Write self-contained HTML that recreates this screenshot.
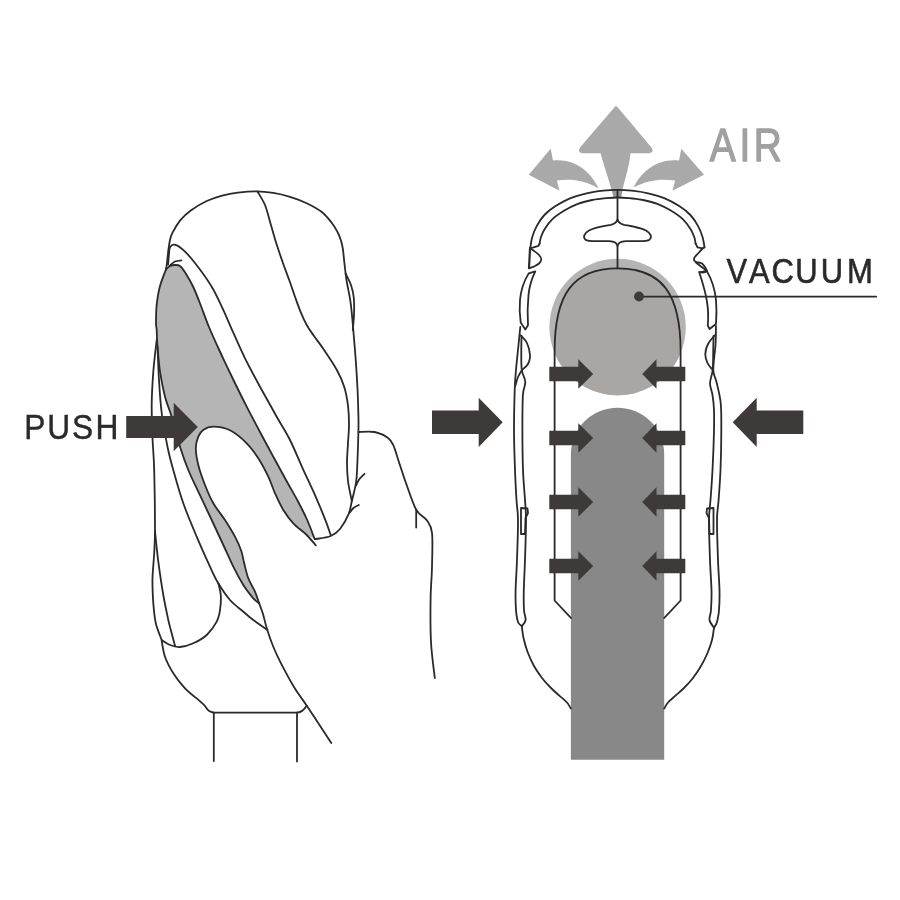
<!DOCTYPE html>
<html lang="en">
<head>
<meta charset="utf-8">
<title>PUSH / AIR / VACUUM diagram</title>
<style>
html,body{margin:0;padding:0;background:#fff;}
body{width:900px;height:900px;overflow:hidden;font-family:"Liberation Sans",sans-serif;}
svg{display:block;}
</style>
</head>
<body>
<svg width="900" height="900" viewBox="0 0 900 900">
<rect width="900" height="900" fill="#fff"/>
<g filter="url(#soft)">
<path d="M166.0 269.3C166.7 268.8 168.6 266.7 170.0 266.0C171.4 265.3 173.0 265.0 174.7 265.0C176.4 265.0 178.2 264.7 180.0 266.0C181.8 267.3 183.1 269.2 185.3 272.7C187.5 276.2 190.7 281.4 193.3 287.0C195.9 292.6 198.4 299.3 201.0 306.0C203.6 312.7 206.0 319.8 209.0 327.0C212.0 334.2 215.1 341.0 219.0 349.5C222.9 358.0 227.9 368.5 232.5 378.0C237.1 387.5 242.1 397.7 246.7 406.7C251.3 415.7 255.6 423.7 260.0 432.0C264.4 440.3 269.0 448.7 273.3 456.7C277.6 464.7 282.0 472.7 286.0 480.0C290.0 487.3 294.0 493.9 297.5 500.5C301.0 507.1 304.1 513.1 307.0 519.5C309.9 525.9 313.3 535.6 314.6 538.8L306.7 535.0C304.5 533.0 297.2 527.5 293.3 523.3C289.4 519.1 286.4 515.0 283.3 510.0C280.2 505.0 277.5 498.9 275.0 493.3C272.5 487.8 271.1 482.5 268.3 476.7C265.5 470.9 261.9 463.9 258.3 458.3C254.7 452.7 251.4 448.0 246.7 443.3C242.0 438.6 235.6 433.1 230.0 430.3C224.4 427.5 217.7 426.8 213.3 426.7C208.9 426.6 206.0 428.1 203.5 429.8C201.0 431.5 199.6 433.6 198.3 436.7C197.0 439.8 195.8 443.6 195.8 448.3C195.8 453.0 196.8 458.9 198.3 465.0C199.8 471.1 202.5 478.6 205.0 485.0C207.5 491.4 210.0 497.5 213.3 503.3C216.6 509.1 221.4 514.4 225.0 520.0C228.6 525.6 232.3 531.5 235.0 536.7C237.7 541.9 239.8 546.6 241.3 551.0C242.8 555.4 243.0 558.8 244.2 563.3C245.4 567.8 246.5 573.6 248.3 578.3C250.1 583.0 253.2 587.5 255.0 591.7C256.8 595.9 258.5 601.4 259.2 603.3C258.2 602.5 256.0 601.3 253.3 598.3C250.7 595.2 246.6 590.3 243.3 585.0C240.0 579.7 236.6 573.4 233.3 566.7C230.0 560.0 226.9 552.8 223.3 545.0C219.7 537.2 215.9 528.9 211.7 520.0C207.5 511.1 202.2 500.0 198.3 491.7C194.4 483.4 191.4 477.5 188.3 470.0C185.2 462.5 182.8 455.6 180.0 446.7C177.2 437.8 174.2 425.0 171.7 416.7C169.2 408.4 166.9 404.2 165.0 396.7C163.1 389.2 161.2 380.0 160.0 371.7C158.8 363.4 158.1 353.6 157.5 346.7C156.9 339.8 156.9 333.9 156.7 330.0C156.4 326.1 156.0 327.5 156.0 323.3C156.0 319.1 156.0 310.9 156.7 304.7C157.4 298.5 158.4 291.9 160.0 286.0C161.6 280.1 165.0 272.1 166.0 269.3Z" fill="#b5b5b6"/>
<circle cx="617.6" cy="327" r="68.2" fill="#b4b4b4"/>
<clipPath id="cc"><circle cx="617.6" cy="327" r="68.2"/></clipPath>
<path d="M554.6 600.5V351C554.6 293.5 573.5 268.3 617.6 268.3C661.7 268.3 680.6 293.5 680.6 351V600.5Z" fill="#a9a7a6" clip-path="url(#cc)"/>
<path d="M570.9 759.7V454.3A46.65 46.65 0 0 1 664.2 454.3V759.7Z" fill="#888"/>
<path d="M614.3 107.5 Q616 105 617.8 107.5 L651.5 147.5 Q654.5 152.5 649 153.2 L630.5 153.2 C629 168 624 182 620.5 197.5 L613.5 197.5 C610 182 604.5 168 600.5 153.2 L582.5 153.2 Q577 152.5 580 147.5 Z" fill="#a9a9a9"/>
<path d="M528.8 174.7 L550.7 148.8 L553 160.5 C573 158 590 170 598.7 188.5 C585 180.5 572 178.5 556.8 180.5 L559.5 190.7 Z" fill="#a9a9a9"/>
<path d="M612.6 190.2H622.6L621 198H614.2Z" fill="#969696"/>
<path d="M704 174.7 L681.3 148.8 L679 160.5 C659 158 642 170 633.5 187.5 C647 180.5 660 178.5 675.2 180.5 L672.5 190.7 Z" fill="#a9a9a9"/>
<g fill="none" stroke="#2b2929" stroke-linecap="round" stroke-linejoin="round">
<path d="M166.0 269.3C166.7 268.8 168.6 266.7 170.0 266.0C171.4 265.3 173.0 265.0 174.7 265.0C176.4 265.0 178.2 264.7 180.0 266.0C181.8 267.3 183.1 269.2 185.3 272.7C187.5 276.2 190.7 281.4 193.3 287.0C195.9 292.6 198.4 299.3 201.0 306.0C203.6 312.7 206.0 319.8 209.0 327.0C212.0 334.2 215.1 341.0 219.0 349.5C222.9 358.0 227.9 368.5 232.5 378.0C237.1 387.5 242.1 397.7 246.7 406.7C251.3 415.7 255.6 423.7 260.0 432.0C264.4 440.3 269.0 448.7 273.3 456.7C277.6 464.7 282.0 472.7 286.0 480.0C290.0 487.3 294.0 493.9 297.5 500.5C301.0 507.1 304.1 513.1 307.0 519.5C309.9 525.9 313.3 535.6 314.6 538.8" stroke-width="1.8"/>
<path d="M315.8 545.3C314.3 543.6 310.4 538.7 306.7 535.0C302.9 531.3 297.2 527.5 293.3 523.3C289.4 519.1 286.4 515.0 283.3 510.0C280.2 505.0 277.5 498.9 275.0 493.3C272.5 487.8 271.1 482.5 268.3 476.7C265.5 470.9 261.9 463.9 258.3 458.3C254.7 452.7 251.4 448.0 246.7 443.3C242.0 438.6 235.6 433.1 230.0 430.3C224.4 427.5 217.7 426.8 213.3 426.7C208.9 426.6 206.0 428.1 203.5 429.8C201.0 431.5 199.6 433.6 198.3 436.7C197.0 439.8 195.8 443.6 195.8 448.3C195.8 453.0 196.8 458.9 198.3 465.0C199.8 471.1 202.5 478.6 205.0 485.0C207.5 491.4 210.0 497.5 213.3 503.3C216.6 509.1 221.4 514.4 225.0 520.0C228.6 525.6 232.3 531.5 235.0 536.7C237.7 541.9 239.8 546.6 241.3 551.0C242.8 555.4 243.0 558.8 244.2 563.3C245.4 567.8 246.5 573.6 248.3 578.3C250.1 583.0 253.2 587.5 255.0 591.7C256.8 595.9 258.5 601.4 259.2 603.3" stroke-width="1.8"/>
<path d="M259.2 603.3C258.2 602.5 256.0 601.3 253.3 598.3C250.7 595.2 246.6 590.3 243.3 585.0C240.0 579.7 236.6 573.4 233.3 566.7C230.0 560.0 226.9 552.8 223.3 545.0C219.7 537.2 215.9 528.9 211.7 520.0C207.5 511.1 202.2 500.0 198.3 491.7C194.4 483.4 191.4 477.5 188.3 470.0C185.2 462.5 182.8 455.6 180.0 446.7C177.2 437.8 174.2 425.0 171.7 416.7C169.2 408.4 166.9 404.2 165.0 396.7C163.1 389.2 161.2 380.0 160.0 371.7C158.8 363.4 158.1 353.6 157.5 346.7C156.9 339.8 156.9 333.9 156.7 330.0C156.4 326.1 156.0 327.5 156.0 323.3C156.0 319.1 156.0 310.9 156.7 304.7C157.4 298.5 158.4 291.9 160.0 286.0C161.6 280.1 165.0 272.1 166.0 269.3" stroke-width="1.8"/>
<path d="M166.0 269.3C166.2 268.2 166.7 265.4 167.0 263.0C167.3 260.6 167.5 257.4 167.8 255.0C168.1 252.6 168.2 250.9 168.6 248.4C169.0 245.9 169.4 242.6 170.0 240.0C170.6 237.4 170.7 236.2 172.4 232.9C174.1 229.6 177.1 224.2 180.2 220.4C183.3 216.6 186.7 213.5 191.1 210.3C195.5 207.1 201.5 203.4 206.7 201.0C211.9 198.6 217.0 197.0 222.2 195.6C227.4 194.2 232.1 193.3 237.8 192.6C243.5 191.9 250.5 191.2 256.4 191.3C262.3 191.4 267.7 192.0 273.3 192.9C278.9 193.8 284.4 195.1 290.0 196.8C295.6 198.5 301.4 200.7 306.7 203.2C311.9 205.7 317.4 208.6 321.5 211.8C325.6 215.0 328.8 219.1 331.5 222.5C334.2 225.9 335.9 229.1 337.5 232.0C339.1 234.9 339.9 237.2 340.8 240.0C341.7 242.8 342.2 244.8 342.8 248.5C343.4 252.2 343.7 256.8 344.3 262.0C344.9 267.2 345.4 273.1 346.5 280.0C347.6 286.9 349.6 295.0 350.7 303.3C351.8 311.6 352.5 320.8 353.3 330.0C354.1 339.2 354.9 348.9 355.6 358.3C356.3 367.8 356.9 377.2 357.4 386.7C357.9 396.1 358.2 407.4 358.4 415.0C358.6 422.6 358.6 424.1 358.4 432.0C358.2 439.9 357.8 453.8 357.4 462.2C357.0 470.6 357.0 475.7 356.1 482.2C355.2 488.7 353.0 495.9 351.8 501.2C350.6 506.5 350.6 509.3 348.7 513.9C346.8 518.5 343.2 525.0 340.2 528.7C337.2 532.4 334.9 534.2 330.7 536.0C326.5 537.8 317.5 538.7 314.9 539.2" stroke-width="1.8"/>
<path d="M257.5 191.5C258.8 193.8 262.9 200.0 265.0 205.0C267.1 210.0 268.2 215.6 270.0 221.7C271.8 227.8 273.7 235.0 275.8 241.7C277.9 248.4 280.3 255.3 282.5 261.7C284.7 268.1 287.1 274.2 289.2 280.0C291.3 285.8 293.1 291.4 295.0 296.7C296.9 302.0 298.6 307.0 300.5 311.7C302.4 316.4 304.4 320.9 306.7 325.0C308.9 329.1 311.2 332.0 314.0 336.0C316.8 340.0 319.6 343.3 323.4 348.9C327.2 354.5 333.2 363.4 336.7 369.7C340.2 376.0 342.3 380.7 344.2 386.7C346.1 392.7 347.2 399.3 348.0 405.6C348.8 411.9 349.0 418.1 349.0 424.4C349.0 430.7 348.3 437.0 348.0 443.3C347.7 449.6 347.0 455.9 347.0 462.2C347.0 468.5 347.2 474.5 348.0 481.0C348.8 487.5 351.2 497.8 351.8 501.2" stroke-width="1.8"/>
<path d="M345.6 273.5C346.5 275.4 349.6 280.9 351.0 285.0C352.4 289.1 353.3 293.0 353.8 298.0C354.3 303.0 354.2 309.7 354.0 315.0C353.8 320.3 353.0 327.5 352.8 330.0" stroke-width="1.8"/>
<path d="M168.0 264.7C168.2 262.9 168.7 256.9 169.0 254.0C169.3 251.1 169.1 248.9 170.0 247.3C170.9 245.8 172.4 244.1 174.7 244.7C177.0 245.3 180.2 247.1 184.0 250.7C187.8 254.2 192.6 259.9 197.3 266.0C202.0 272.1 207.8 280.2 212.0 287.3C216.2 294.4 219.1 301.1 222.7 308.7C226.2 316.3 229.6 324.4 233.3 332.7C237.0 341.0 240.6 349.3 245.0 358.3C249.4 367.3 254.7 377.0 260.0 386.7C265.3 396.4 271.7 407.8 276.7 416.7C281.7 425.6 285.8 431.6 290.0 440.0C294.2 448.4 298.1 458.2 302.2 467.4C306.3 476.5 311.0 486.1 314.9 494.9C318.8 503.7 322.8 513.5 325.4 520.2C328.0 526.9 329.8 532.5 330.7 535.0" stroke-width="1.8"/>
<path d="M169.5 266.0C170.4 265.2 173.0 262.4 175.0 261.5C177.0 260.6 180.2 260.6 181.3 260.4" stroke-width="1.8"/>
<path d="M156.7 340.0C156.1 345.3 154.1 360.9 153.3 371.7C152.5 382.5 151.8 393.9 151.7 405.0C151.6 416.1 152.1 427.2 152.5 438.0C152.9 448.8 153.8 454.9 154.2 470.0C154.6 485.1 155.0 514.4 155.0 528.3C155.0 542.2 154.6 545.0 154.2 553.3C153.8 561.6 152.7 570.0 152.5 578.3C152.3 586.6 152.8 595.8 153.3 603.3C153.9 610.8 154.4 617.2 155.8 623.3C157.2 629.4 160.7 637.2 161.7 640.0" stroke-width="1.8"/>
<path d="M155.0 531.7C155.6 536.7 156.9 551.2 158.3 561.7C159.7 572.2 161.6 585.3 163.3 595.0C165.0 604.7 167.1 614.2 168.3 620.0C169.6 625.8 169.7 625.7 170.8 630.0C171.9 634.3 174.3 643.2 175.0 645.8" stroke-width="1.8"/>
<path d="M157.5 346.7C157.8 352.2 158.3 368.9 159.0 380.0C159.7 391.1 160.3 401.9 161.7 413.0C163.1 424.1 165.6 437.2 167.5 446.7C169.4 456.2 170.7 460.6 173.3 470.0C175.9 479.4 179.4 492.2 183.3 503.3C187.2 514.4 192.2 526.1 196.7 536.7C201.1 547.3 206.4 558.9 210.0 566.7C213.6 574.5 215.0 577.8 218.3 583.3C221.6 588.8 225.8 595.3 230.0 600.0C234.2 604.7 239.4 608.4 243.3 611.7C247.2 615.0 249.3 617.0 253.3 620.0C257.3 623.0 265.1 628.3 267.5 630.0" stroke-width="1.8"/>
<path d="M218.3 583.3C218.7 585.2 220.5 590.5 220.8 595.0C221.1 599.5 220.7 605.5 220.0 610.0C219.3 614.5 218.9 617.5 216.7 621.7C214.5 625.9 210.6 631.4 206.7 635.0C202.8 638.6 197.8 641.3 193.3 643.3C188.9 645.3 183.9 646.7 180.0 647.0C176.1 647.3 173.1 646.2 170.0 645.0C166.9 643.8 163.1 640.8 161.7 640.0" stroke-width="1.8"/>
<path d="M161.7 640.8C162.2 643.4 163.1 651.3 165.0 656.7C166.9 662.1 170.0 668.0 173.3 673.3C176.6 678.6 180.6 683.6 185.0 688.3C189.4 692.9 196.8 698.4 200.0 701.2C203.2 704.0 203.1 703.9 204.4 705.3C205.7 706.7 206.5 708.5 207.6 709.6C208.7 710.7 209.9 711.4 211.1 711.9C212.2 712.4 213.9 712.6 214.5 712.7L296 712.7C301 712.5 304.5 709.5 306.6 705.7" stroke-width="1.8"/>
<path d="M213.8 712.7V761" stroke-width="1.8"/>
<path d="M297 712.7V761.5" stroke-width="1.8"/>
<path d="M259.2 603.3C259.8 605.1 261.7 609.6 263.0 614.0C264.3 618.4 265.5 624.5 267.2 629.8C268.9 635.1 270.9 640.8 273.0 646.0C275.1 651.2 276.5 654.5 280.0 661.3C283.5 668.1 289.5 679.6 294.0 687.0C298.5 694.4 302.6 699.5 306.8 705.7C311.0 711.9 314.9 718.1 319.0 724.3C323.1 730.5 329.2 739.9 331.3 743.0" stroke-width="1.8"/>
<path d="M358.4 432.0C361.1 432.0 369.5 431.1 374.4 432.0C379.3 432.9 384.5 435.5 387.7 437.7C390.9 439.9 391.4 441.1 393.3 445.2C395.2 449.3 396.9 456.0 399.0 462.2C401.1 468.4 402.8 474.3 405.7 482.2C408.6 490.1 412.7 503.4 416.2 509.7C419.7 516.0 424.2 516.3 426.8 520.2C429.4 524.1 431.1 525.1 432.0 532.9C432.9 540.6 432.2 555.8 432.0 566.7C431.8 577.6 430.8 585.7 430.6 598.3C430.4 610.9 430.3 628.9 431.0 642.2C431.7 655.5 434.2 672.1 434.8 678.1" stroke-width="1.8"/>
<path d="M416.2 509.7V527.6" stroke-width="1.8"/>
<path d="M356.1 485.4C356.7 484.3 358.1 480.9 359.5 479.0C360.9 477.1 363.7 474.7 364.5 473.8" stroke-width="1.8"/>
<path d="M349.7 512.8C350.3 512.0 352.0 509.3 353.5 508.0C355.0 506.7 357.9 505.5 358.8 505.0" stroke-width="1.8"/>
<path d="M530.3 248.0C530.6 246.2 531.1 240.8 532.2 237.2C533.3 233.5 534.7 229.8 536.7 226.1C538.7 222.4 541.2 218.3 544.4 215.0C547.5 211.7 551.3 208.9 555.6 206.1C559.9 203.3 564.8 200.4 570.0 198.3C575.2 196.2 581.2 194.6 586.7 193.3C592.2 192.0 598.1 191.2 603.3 190.6C608.4 190.0 612.9 189.8 617.6 189.8C622.3 189.8 626.4 190.0 631.5 190.6C636.6 191.2 642.5 192.0 648.1 193.3C653.6 194.6 659.6 196.2 664.8 198.3C670.0 200.4 674.9 203.3 679.2 206.1C683.5 208.9 687.2 211.7 690.4 215.0C693.5 218.3 696.1 222.4 698.1 226.1C700.1 229.8 701.5 233.6 702.6 237.2C703.7 240.8 704.2 245.7 704.5 247.4" stroke-width="1.8"/>
<path d="M539.6 243.5C539.8 242.5 540.0 239.8 540.8 237.5C541.6 235.2 542.5 232.4 544.4 229.4C546.3 226.4 548.9 222.5 552.2 219.4C555.5 216.3 560.1 213.2 564.4 210.6C568.7 208.0 573.2 205.7 577.8 203.9C582.4 202.1 587.4 201.0 592.2 200.0C597.0 199.0 602.5 198.5 606.7 198.1C610.9 197.7 614.0 197.5 617.6 197.5C621.2 197.5 624.3 197.7 628.5 198.1C632.7 198.5 638.2 199.0 643.0 200.0C647.8 201.0 652.8 202.1 657.4 203.9C662.0 205.7 666.5 208.0 670.8 210.6C675.1 213.2 679.7 216.3 683.0 219.4C686.3 222.5 688.9 226.4 690.8 229.4C692.7 232.4 693.6 235.2 694.4 237.5C695.2 239.8 695.4 242.5 695.6 243.5" stroke-width="1.8"/>
<path d="M539.6 243.5L538.5 245.8L532.7 247.6L530.3 248.0" stroke-width="1.8"/>
<path d="M530.0 248.5C530.6 248.8 532.0 249.4 533.5 250.5C535.0 251.6 537.7 253.5 539.0 255.0C540.3 256.5 541.3 257.9 541.3 259.3C541.3 260.7 540.2 262.3 539.0 263.5C537.8 264.7 535.6 265.7 534.0 266.5C532.4 267.3 530.1 267.9 529.3 268.2" stroke-width="1.8"/>
<path d="M530.0 248.5L529.0 268.2" stroke-width="2.2"/>
<path d="M528.7 273.4L535.3 271.3C531.5 279 529.2 287 528.5 295C527.6 304 527.2 314 528 325.3L525.3 329.4L520.7 322.5C519.6 315 519.4 307 520 300C520.8 291 524 281 528.7 273.4Z" stroke-width="1.8"/>
<path d="M520.7 335.3C521.8 336.6 525.5 339.7 527.0 343.0C528.5 346.3 529.8 351.8 530.0 355.3C530.2 358.8 529.3 361.6 528.0 364.0C526.7 366.4 523.0 369.0 522.0 370.0" stroke-width="1.8"/>
<path d="M520.3 327.0C520.0 330.0 519.2 337.8 518.5 345.0C517.8 352.2 516.6 362.5 516.0 370.0C515.4 377.5 515.0 380.0 514.7 390.0C514.4 400.0 514.0 416.7 514.0 430.0C514.0 443.3 514.6 458.3 515.0 470.0C515.4 481.7 516.0 491.7 516.5 500.0C517.0 508.3 517.9 510.0 518.0 520.0C518.1 530.0 517.4 548.3 517.0 560.0C516.6 571.7 515.8 581.7 515.6 590.0C515.4 598.3 515.6 604.7 516.0 610.0C516.4 615.3 517.0 619.3 518.0 622.0C519.0 624.7 521.2 625.5 521.8 626.2" stroke-width="1.8"/>
<path d="M521.5 336.0C521.5 338.7 521.2 346.3 521.3 352.0C521.3 357.7 521.1 365.0 521.8 370.0C522.5 375.0 525.1 377.8 525.3 382.0C525.5 386.2 523.4 387.0 522.9 395.0C522.4 403.0 522.4 417.5 522.4 430.0C522.4 442.5 522.6 458.3 523.0 470.0C523.4 481.7 524.5 491.7 525.0 500.0C525.5 508.3 526.0 510.0 526.0 520.0C526.0 530.0 525.4 548.3 525.0 560.0C524.6 571.7 524.0 581.7 523.8 590.0C523.6 598.3 523.7 605.0 524.0 610.0C524.3 615.0 526.0 617.3 525.6 620.0C525.2 622.7 522.4 625.2 521.8 626.2" stroke-width="1.8"/>
<path d="M522.0 370.0C521.3 371.2 519.1 374.3 518.0 377.0C516.9 379.7 515.8 384.5 515.3 386.0" stroke-width="1.8"/>
<path d="M521.0 508.0L527.5 508.5L528.0 513.0L525.5 518.0L525.0 534.0L521.0 534.0L521.0 508.0" stroke-width="1.8"/>
<path d="M521.8 626.2C522.1 628.2 522.5 633.7 523.5 638.0C524.5 642.3 525.9 647.3 527.6 652.0C529.4 656.7 531.6 661.7 534.0 666.0C536.4 670.3 539.2 674.3 542.0 678.0C544.8 681.7 548.1 685.1 551.0 688.0C553.9 690.9 556.6 693.2 559.3 695.6C562.0 698.0 565.1 700.3 567.0 702.5C568.9 704.7 570.2 707.6 570.9 708.6" stroke-width="1.8"/>
<path d="M695.6 243.5L697.5 247.3L702.7 248.3L704.5 247.4" stroke-width="1.8"/>
<path d="M702.7 248.5C702.0 249.2 700.0 251.3 698.5 253.0C697.0 254.7 694.4 257.2 694.0 258.7C693.6 260.2 694.7 261.2 696.0 262.0C697.3 262.8 700.2 262.1 702.0 263.5C703.8 264.9 706.5 269.2 706.7 270.7C706.9 272.2 704.2 272.3 703.0 272.5C701.8 272.7 699.9 272.1 699.3 272.0" stroke-width="1.8"/>
<path d="M696.0 262.5C696.8 263.2 699.2 265.1 701.0 266.5C702.8 267.9 705.8 270.0 706.7 270.7" stroke-width="1.8"/>
<path d="M699.3 272.3L706.8 270.9C711.5 279 715 290 716 300C716.7 308 716.6 316 716 324L709.5 329L707.8 325.3C708.6 316 708.2 308 706.7 300C705 290 702 281 699.3 272.3Z" stroke-width="1.8"/>
<path d="M714.7 335.3C713.6 336.8 709.6 340.9 708.0 344.0C706.4 347.1 705.4 350.8 705.3 354.0C705.2 357.2 706.3 360.3 707.5 363.0C708.7 365.7 711.8 368.8 712.7 370.0" stroke-width="1.8"/>
<path d="M716.0 326.0C715.9 329.2 716.0 337.7 715.5 345.0C715.0 352.3 713.1 363.8 713.3 370.0C713.5 376.2 715.3 376.5 716.5 382.0C717.7 387.5 719.9 395.0 720.7 403.0C721.5 411.0 721.3 418.8 721.3 430.0C721.3 441.2 721.0 458.3 720.5 470.0C720.0 481.7 719.2 491.7 718.6 500.0C718.0 508.3 717.1 510.0 717.0 520.0C716.9 530.0 717.6 548.3 718.0 560.0C718.4 571.7 719.3 581.7 719.5 590.0C719.7 598.3 719.4 604.7 719.0 610.0C718.6 615.3 717.8 619.0 717.0 622.0C716.2 625.0 714.5 626.8 714.0 627.7" stroke-width="1.8"/>
<path d="M713.5 336.0C713.5 338.7 713.3 346.3 713.2 352.0C713.1 357.7 713.2 364.8 712.7 370.0C712.2 375.2 710.0 379.1 710.0 383.3C710.0 387.5 711.8 390.6 712.5 395.0C713.2 399.4 713.8 404.2 714.0 410.0C714.2 415.8 714.2 420.0 714.0 430.0C713.8 440.0 713.1 458.3 712.5 470.0C711.9 481.7 711.1 491.7 710.5 500.0C709.9 508.3 709.1 510.0 709.0 520.0C708.9 530.0 709.6 548.3 710.0 560.0C710.4 571.7 711.3 581.7 711.5 590.0C711.7 598.3 711.3 605.0 711.0 610.0C710.7 615.0 709.0 617.0 709.5 620.0C710.0 623.0 713.2 626.4 714.0 627.7" stroke-width="1.8"/>
<path d="M713.5 508.0L707.0 508.5L706.5 513.0L709.0 518.0L709.5 534.0L713.5 534.0L713.5 508.0" stroke-width="1.8"/>
<path d="M714.0 627.7C713.7 629.8 713.1 635.8 712.0 640.0C710.9 644.2 709.3 648.7 707.5 653.0C705.7 657.3 703.4 661.8 701.0 666.0C698.6 670.2 695.8 674.3 693.0 678.0C690.2 681.7 686.9 685.1 684.0 688.0C681.1 690.9 678.2 693.2 675.5 695.6C672.8 698.0 669.9 700.3 668.0 702.5C666.1 704.7 664.8 707.6 664.2 708.6" stroke-width="1.8"/>
<path d="M571 618L554.6 600.5V351C554.6 293.5 573.5 268.3 617.6 268.3C661.7 268.3 680.6 293.5 680.6 351V600.5L664.2 618" stroke-width="1.8"/>
<path d="M617.5 189.8V218M617.5 218C617.5 222 619.5 223.8 624.0 224.8C632.0 226.3 641.0 227.6 646.0 230.5C650.7 233.2 652.4 237 649.5 239.7C647.5 241.3 643.0 241.2 637.0 241.2L626.0 241.2C620.5 241.4 617.5 243 617.5 247V268.3M617.5 218C617.5 222 615.5 223.8 611.0 224.8C603.0 226.3 594.0 227.6 589.0 230.5C584.3 233.2 582.6 237 585.5 239.7C587.5 241.3 592.0 241.2 598.0 241.2L609.0 241.2C614.5 241.4 617.5 243 617.5 247" stroke-width="1.8"/>
<path d="M639 296.6H876.3" stroke-width="1.7"/>
</g>
<circle cx="639" cy="296.5" r="4.9" fill="#3e3a39"/>
<path d="M126.2 416.0 H173.7 V402.7 L197.8 427.0 L173.7 451.3 V438.0 H126.2 Z" fill="#3e3a39"/>
<path d="M432.0 410.6 H478.7 V397.7 L502.7 422.3 L478.7 446.9 V434.0 H432.0 Z" fill="#3e3a39"/>
<path d="M803.3 410.6 H756.7 V397.7 L732.7 422.3 L756.7 446.9 V434.0 H803.3 Z" fill="#3e3a39"/>
<path d="M549.3 366.7 H578.3 V359.3 L593.2 374.0 L578.3 388.7 V381.3 H549.3 Z" fill="#3e3a39"/>
<path d="M685.3 366.7 H656.5 V359.3 L642.2 374.0 L656.5 388.7 V381.3 H685.3 Z" fill="#3e3a39"/>
<path d="M549.3 430.7 H578.3 V423.3 L593.2 438.0 L578.3 452.7 V445.3 H549.3 Z" fill="#3e3a39"/>
<path d="M685.3 430.7 H656.5 V423.3 L642.2 438.0 L656.5 452.7 V445.3 H685.3 Z" fill="#3e3a39"/>
<path d="M549.3 494.7 H578.3 V487.3 L593.2 502.0 L578.3 516.7 V509.3 H549.3 Z" fill="#3e3a39"/>
<path d="M685.3 494.7 H656.5 V487.3 L642.2 502.0 L656.5 516.7 V509.3 H685.3 Z" fill="#3e3a39"/>
<path d="M549.3 558.7 H578.3 V551.3 L593.2 566.0 L578.3 580.7 V573.3 H549.3 Z" fill="#3e3a39"/>
<path d="M685.3 558.7 H656.5 V551.3 L642.2 566.0 L656.5 580.7 V573.3 H685.3 Z" fill="#3e3a39"/>
<text transform="scale(0.8521,1)" x="832.9 868.0 884.5" y="161.4" font-family="'Liberation Sans', sans-serif" font-size="45.6" fill="#a0a0a0" stroke="#a0a0a0" stroke-width="1.3" stroke-linejoin="round">AIR</text>
<text transform="scale(0.8785,1)" x="826.9 852.5 878.2 905.3 934.4 964.2" y="282.9" font-family="'Liberation Sans', sans-serif" font-size="35.3" fill="#2b2929" stroke="#2b2929" stroke-width="0.6" stroke-linejoin="round">VACUUM</text>
<text transform="scale(0.8936,1)" x="27.2 53.0 80.6 107.0" y="439.4" font-family="'Liberation Sans', sans-serif" font-size="35.5" fill="#2b2929" stroke="#2b2929" stroke-width="0.45" stroke-linejoin="round">PUSH</text>
</g>
<defs><filter id="soft" x="0" y="0" width="900" height="900" filterUnits="userSpaceOnUse" color-interpolation-filters="sRGB"><feGaussianBlur stdDeviation="0.45"/></filter></defs>
</svg>
</body>
</html>
